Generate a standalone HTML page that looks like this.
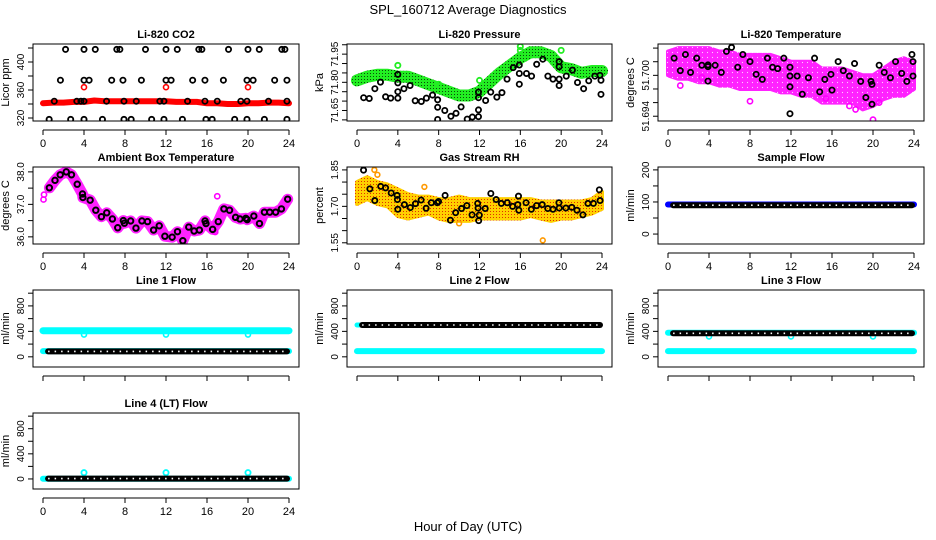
<!DOCTYPE html>
<html><head><meta charset="utf-8"><style>
html,body{margin:0;padding:0;background:#fff;}
svg{display:block;font-family:"Liberation Sans",Arial,sans-serif;}
</style></head><body>
<svg id="chart" width="936" height="540" viewBox="0 0 936 540" xmlns="http://www.w3.org/2000/svg">
<defs>
<pattern id="pGreen" width="3" height="3" patternUnits="userSpaceOnUse"><rect width="3" height="3" fill="#22ee22"/><rect x="1" y="1" width="1" height="1" fill="#0a4a0a"/></pattern>
<pattern id="pMag" width="5" height="5" patternUnits="userSpaceOnUse"><rect width="5" height="5" fill="#ff22ff"/><circle cx="2.5" cy="2.5" r="0.6" fill="#ffccff"/></pattern>
<pattern id="pRH" width="3" height="3" patternUnits="userSpaceOnUse"><rect width="3" height="3" fill="#ffd000"/><rect x="1" y="1" width="1" height="1" fill="#e03000"/></pattern>
</defs>
<text x="468" y="14" text-anchor="middle" font-size="13">SPL_160712  Average Diagnostics</text>
<text x="468" y="531" text-anchor="middle" font-size="13">Hour of Day (UTC)</text>
</svg>
<script>
// ---------- data ----------
const hours = [0,1,2,3,4,5,6,7,8,9,10,11,12,13,14,15,16,17,18,19,20,21,22,23,24];
const co2Red = [341,342,342,343,343,345,344,344,344,344,344,344,344,343,343,343,341,341,340,340,341,341,342,342,341];
const co2RedOutX = [4,12,20];
const co2RedOutY = [364,364,364];
const co2Levels = [418,374,344,318];
const co2LevelX = [
 [2.2,4,5.1,7.2,7.5,10,12,13.1,15.2,15.5,18.1,20,21.1,23.3,23.6],
 [1.7,4,4.5,6.7,7.8,9.6,12,12.5,14.6,15.8,17.6,19.9,20.5,22.6,23.8],
 [1.1,3.3,3.7,4,6.2,7.9,9.1,11.4,11.8,14.1,15.8,17,19.3,19.9,22,23.8],
 [0.6,2.7,4,5.8,7.9,8.6,10.6,11.8,13.6,15.9,16.5,18.7,19.9,21.6,23.8]];

const presGreen = [71.81,71.83,71.84,71.84,71.83,71.83,71.81,71.79,71.77,71.75,71.73,71.73,71.75,71.80,71.85,71.89,71.93,71.96,71.96,71.94,71.88,71.87,71.85,71.86,71.86];
const presGreenOutX = [4,8,12,16,16,20];
const presGreenOutY = [71.89,71.79,71.81,71.99,71.97,71.97];
const presBlackX = [0.65,1.2,1.75,2.3,2.8,3.3,4.0,4.0,4.0,4.0,4.6,5.2,5.7,6.3,6.8,7.4,7.9,7.9,7.9,8.6,9.2,9.7,10.2,10.8,11.3,11.9,11.9,11.9,11.9,12.6,13.1,13.7,14.2,14.7,15.3,15.9,15.9,15.9,16.6,17.1,17.6,18.2,18.7,19.2,19.8,19.8,19.8,19.8,20.5,21.1,21.6,22.2,22.7,23.3,23.8,23.9,23.9];
const presBlackY = [71.718,71.714,71.766,71.801,71.723,71.716,71.716,71.750,71.797,71.842,71.766,71.783,71.702,71.698,71.716,71.732,71.707,71.667,71.602,71.650,71.619,71.635,71.669,71.604,71.615,71.617,71.653,71.718,71.748,71.703,71.748,71.721,71.745,71.817,71.878,71.892,71.847,71.790,71.847,71.833,71.896,71.923,71.833,71.817,71.817,71.783,71.883,71.910,71.833,71.865,71.799,71.766,71.808,71.833,71.837,71.811,71.736];

const tempUpper = [51.7035,51.704,51.704,51.704,51.704,51.7035,51.7035,51.703,51.703,51.703,51.703,51.7025,51.702,51.702,51.702,51.701,51.701,51.701,51.7005,51.700,51.700,51.701,51.702,51.7025,51.702];
const tempLower = [51.700,51.6995,51.6995,51.699,51.699,51.6985,51.6985,51.698,51.698,51.698,51.698,51.6975,51.6975,51.697,51.697,51.696,51.696,51.696,51.696,51.695,51.6955,51.6965,51.697,51.697,51.698];
const tempMagOutX = [1.2,3.3,8.0,15.4,17.7,18.3,20.0,20.6];
const tempMagOutY = [51.6985,51.6997,51.6962,51.6966,51.6955,51.6950,51.6935,51.6960];
const tempBlackX = [0.6,1.2,1.7,2.2,2.8,3.3,3.9,3.9,3.9,4.6,5.2,5.7,6.2,6.8,7.3,8.0,8.6,9.2,9.7,10.2,10.7,11.3,11.9,11.9,11.9,11.9,12.6,13.1,13.7,14.3,14.8,15.3,15.9,16.0,16.6,17.1,17.7,18.2,18.8,19.3,19.8,19.9,19.9,20.6,21.1,21.7,22.2,22.8,23.3,23.8,23.9,23.9];
const tempBlackY = [51.70252,51.70069,51.70306,51.70044,51.70252,51.70148,51.70128,51.70153,51.69916,51.70148,51.70044,51.70351,51.7041,51.70119,51.70306,51.70202,51.70015,51.69941,51.70252,51.70119,51.70099,51.70252,51.70119,51.6999,51.69832,51.69437,51.6999,51.69723,51.69965,51.70252,51.69758,51.69941,51.70015,51.69783,51.70202,51.70069,51.6999,51.70173,51.69911,51.69674,51.69911,51.69867,51.69575,51.70148,51.70044,51.69965,51.70202,51.70029,51.69911,51.70306,51.70202,51.6999];

const ambX = [0.62,1.17,1.68,2.27,2.78,3.34,3.85,3.89,4.6,5.15,5.7,6.22,6.77,7.29,7.84,7.94,8.55,9.07,9.65,10.2,10.79,11.34,11.89,12.6,13.12,13.64,14.22,14.74,15.26,15.81,15.9,16.55,17.1,17.65,18.2,18.79,19.21,19.79,19.92,20.57,21.12,21.6,22.12,22.7,23.26,23.87];
const ambY = [37.51,37.74,37.91,38.0,37.91,37.62,37.32,37.21,37.13,36.82,36.62,36.74,36.55,36.28,36.5,36.42,36.49,36.27,36.49,36.47,36.21,36.34,36.02,35.99,36.16,35.88,36.3,36.18,36.21,36.49,36.41,36.23,36.47,36.86,36.82,36.6,36.55,36.57,36.53,36.64,36.41,36.76,36.76,36.76,36.86,37.16];
const ambMagOutX = [0.05,0.1,16.9,16.8,17.0];
const ambMagOutY = [37.15,37.3,36.4,36.15,37.25];

const rhUpper = [1.80,1.82,1.80,1.79,1.77,1.75,1.74,1.74,1.73,1.73,1.74,1.73,1.73,1.73,1.73,1.73,1.73,1.73,1.72,1.72,1.72,1.72,1.72,1.73,1.76];
const rhLower = [1.71,1.73,1.71,1.70,1.66,1.65,1.66,1.67,1.65,1.64,1.64,1.64,1.65,1.65,1.65,1.65,1.65,1.66,1.65,1.64,1.65,1.65,1.66,1.67,1.69];
const rhOutX = [1.7,2.0,6.6,10.0,18.2];
const rhOutY = [1.85,1.83,1.78,1.63,1.56];
const rhBlackX = [0.64,1.26,1.74,2.32,2.8,3.35,3.93,3.96,4.0,4.64,5.22,5.73,6.28,6.77,7.28,7.86,7.99,8.63,9.15,9.66,10.24,10.76,11.27,11.82,11.86,11.92,11.98,12.56,13.11,13.63,14.14,14.72,15.24,15.75,15.82,15.85,16.56,17.08,17.59,18.14,18.69,19.2,19.78,19.81,20.46,21.04,21.55,22.13,22.62,23.16,23.74,23.81];
const rhBlackY = [1.849,1.772,1.724,1.782,1.776,1.755,1.745,1.728,1.688,1.707,1.695,1.711,1.726,1.692,1.715,1.715,1.720,1.745,1.643,1.674,1.691,1.703,1.665,1.712,1.693,1.641,1.664,1.691,1.753,1.728,1.712,1.715,1.700,1.707,1.742,1.684,1.715,1.688,1.703,1.707,1.691,1.688,1.715,1.693,1.693,1.696,1.684,1.665,1.712,1.712,1.768,1.724];

const flowHours = [0,1,2,3,4,5,6,7,8,9,10,11,12,13,14,15,16,17,18,19,20,21,22,23,24];
const blackHours = [0.5,1.5,2.5,3.5,4.5,5.5,6.5,7.5,8.5,9.5,10.5,11.5,12.5,13.5,14.5,15.5,16.5,17.5,18.5,19.5,20.5,21.5,22.5,23.5,23.8];
const sampleBlue = [92,92,92,92,92,92,92,92,92,92,92,92,92,92,92,92,92,92,92,92,92,92,92,92,92];
const sampleBlack = [90,90,90,90,90,90,90,90,90,90,90,90,90,90,90,90,90,90,90,90,90,90,90,90,90];
const line1CyanHi = [410,410,410,410,410,410,410,410,410,410,410,410,410,410,410,410,410,410,410,410,410,410,410,410,410];
const line1CyanLo = [90,90,90,90,90,90,90,90,90,90,90,90,90,90,90,90,90,90,90,90,90,90,90,90,90];
const line1Black = [85,85,85,85,85,85,85,85,85,85,85,85,85,85,85,85,85,85,85,85,85,85,85,85,85];
const line2Black = [500,500,500,500,500,500,500,500,500,500,500,500,500,500,500,500,500,500,500,500,500,500,500,500,500];
const line2Cyan = [90,90,90,90,90,90,90,90,90,90,90,90,90,90,90,90,90,90,90,90,90,90,90,90,90];
const line3Black = [370,370,370,370,370,370,370,370,370,370,370,370,370,370,370,370,370,370,370,370,370,370,370,370,370];
const line3CyanHi = [378,378,378,378,378,378,378,378,378,378,378,378,378,378,378,378,378,378,378,378,378,378,378,378,378];
const line3CyanLo = [90,90,90,90,90,90,90,90,90,90,90,90,90,90,90,90,90,90,90,90,90,90,90,90,90];
const line4Black = [5,5,5,5,5,5,5,5,5,5,5,5,5,5,5,5,5,5,5,5,5,5,5,5,5];
const line4Cyan = [2,2,2,2,2,2,2,2,2,2,2,2,2,2,2,2,2,2,2,2,2,2,2,2,2];
const cyanDipX = [4,12,20];
const line1DipY = [350,350,350];
const line3DipY = [320,320,320];
const line4OutY = [100,100,100];
const xTickLabels = ["0","4","8","12","16","20","24"];

// ---------- drawing ----------
const NS = "http://www.w3.org/2000/svg";
const svg = document.getElementById("chart");
function mk(tag, attrs, parent) {
  const el = document.createElementNS(NS, tag);
  for (const k in attrs) el.setAttribute(k, attrs[k]);
  (parent || svg).appendChild(el);
  return el;
}
function X(p, v) { return p.x + 10 + v / 24 * (p.w - 20); }
function Y(p, v) { return p.y + p.h - (v - p.ylim[0]) / (p.ylim[1] - p.ylim[0]) * p.h; }

function panel(p) {
  const g = mk("g", {});
  
  
  p.g = g;
  const t = mk("text", {x: p.x + p.w / 2, y: p.y - 6, "text-anchor": "middle", "font-size": 11, "font-weight": "bold"}, g);
  t.textContent = p.title;
  
  
  const ya = mk("g", {stroke: "#000", "stroke-width": 1}, g);
  
  
  p.yticks.forEach(v => {
    const yy = Y(p, v);
    mk("line", {x1: p.x - 5, x2: p.x, y1: yy, y2: yy}, ya);
  });
  p.ylabels.forEach(v => {
    const yy = Y(p, v);
    const tl = mk("text", {x: p.x - 9, y: yy, "text-anchor": "middle", "font-size": 10, transform: `rotate(-90 ${p.x - 9} ${yy})`, stroke: "none"}, g);
    tl.textContent = p.fmt ? v.toFixed(p.fmt) : String(v);
    
    
  });
  const yt = mk("text", {x: p.x - 24, y: p.y + p.h / 2, "text-anchor": "middle", "font-size": 11, transform: `rotate(-90 ${p.x - 24} ${p.y + p.h / 2})`}, g);
  yt.textContent = p.ylab;
  
  
  const xa = mk("g", {stroke: "#000", "stroke-width": 1}, g);
  
  
  const ay = p.y + p.h + 9;
  mk("line", {x1: X(p, 0), x2: X(p, 24), y1: ay, y2: ay}, xa);
  xTickLabels.forEach(s => {
    const xx = X(p, +s);
    mk("line", {x1: xx, x2: xx, y1: ay, y2: ay + 5}, xa);
    if (p.xlabels) {
      const tl = mk("text", {x: xx, y: ay + 17, "text-anchor": "middle", "font-size": 11, stroke: "none", fill: "#000"}, g);
      tl.textContent = s;
      
      
    }
  });
  const cp = mk("clipPath", {id: "clip-" + p.name}, g);
  mk("rect", {x: p.x, y: p.y, width: p.w, height: p.h}, cp);
  p.plot = mk("g", {"clip-path": `url(#clip-${p.name})`}, g);
  
  
  return p;
}
function frame(p) {
  const r = mk("rect", {x: p.x, y: p.y, width: p.w, height: p.h, fill: "none", stroke: "#000", "stroke-width": 1}, p.g);
  
  
}
function thickLine(p, xs, ys, color, w, name) {
  const pts = xs.map((v, i) => X(p, v).toFixed(1) + "," + Y(p, ys[i]).toFixed(1)).join(" ");
  const l = mk("polyline", {points: pts, fill: "none", stroke: color, "stroke-width": w, "stroke-linejoin": "round", "stroke-linecap": "round"}, p.plot);
  
  
}
function band(p, xs, up, lo, fill, name) {
  const a = xs.map((v, i) => X(p, v).toFixed(1) + "," + Y(p, up[i]).toFixed(1));
  const b = xs.map((v, i) => X(p, v).toFixed(1) + "," + Y(p, lo[i]).toFixed(1)).reverse();
  const poly = mk("polygon", {points: a.concat(b).join(" "), fill: fill, stroke: fill, "stroke-width": 4, "stroke-linejoin": "round"}, p.plot);
  
  
}
function points(p, xs, ys, color, r, sw, name) {
  xs.forEach((v, i) => {
    const c = mk("circle", {cx: X(p, v), cy: Y(p, ys[i]), r: r, fill: "none", stroke: color, "stroke-width": sw}, p.plot);
    
    
  });
}
function ringSeries(p, xs, ys, name) {
  thickLine(p, xs, ys, "#000", 6, name);
  const pts = xs.map((v, i) => X(p, v).toFixed(1) + "," + Y(p, ys[i]).toFixed(1)).join(" ");
  const l = mk("polyline", {points: pts, fill: "none", stroke: "#fff", "stroke-width": 1.6, "stroke-dasharray": "1.5 5"}, p.plot);
  
  
}
function range(a, b, s) { const r = []; for (let v = a; v <= b + 1e-9; v += s) r.push(+v.toFixed(4)); return r; }

const pCO2 = panel({name: "co2", title: "Li-820 CO2", ylab: "Licor ppm", x: 33, y: 44, w: 266, h: 77, ylim: [315.7, 425.7], yticks: range(320, 420, 20), ylabels: [320, 360, 400], xlabels: true});
thickLine(pCO2, hours, co2Red, "#ff0000", 6, "co2-red-series");
points(pCO2, co2RedOutX, co2RedOutY, "#ff0000", 2.5, 1.6, "co2-red-outlier");
co2Levels.forEach((lv, k) => points(pCO2, co2LevelX[k], co2LevelX[k].map(() => lv), "#000", 2.6, 1.8, "co2-black-point"));
frame(pCO2);

const pPres = panel({name: "pressure", title: "Li-820 Pressure", ylab: "kPa", x: 347, y: 44, w: 265, h: 77, ylim: [71.594, 72.004], yticks: range(71.60, 72.00, 0.05), ylabels: [71.65, 71.80, 71.95], fmt: 2, xlabels: true});
thickLine(pPres, hours, presGreen, "url(#pGreen)", 12, "pressure-green-series");
points(pPres, presGreenOutX, presGreenOutY, "#22ee22", 2.6, 1.8, "pressure-green-outlier");
points(pPres, presBlackX, presBlackY, "#000", 2.6, 1.8, "pressure-black-point");
frame(pPres);

const pTemp = panel({name: "temperature", title: "Li-820 Temperature", ylab: "degrees C", x: 658, y: 44, w: 266, h: 77, ylim: [51.6933, 51.7046], yticks: range(51.694, 51.704, 0.002), ylabels: [51.694, 51.700], fmt: 3, xlabels: true});
band(pTemp, hours, tempUpper, tempLower, "url(#pMag)", "temperature-magenta-band");
points(pTemp, tempMagOutX, tempMagOutY, "#ff00ff", 2.6, 1.6, "temperature-magenta-point");
points(pTemp, tempBlackX, tempBlackY, "#000", 2.6, 1.8, "temperature-black-point");
frame(pTemp);

const pAmb = panel({name: "ambient-temp", title: "Ambient Box Temperature", ylab: "degrees C", x: 33, y: 167, w: 266, h: 77, ylim: [35.78, 38.15], yticks: range(36.0, 38.0, 0.5), ylabels: [36.0, 37.0, 38.0], fmt: 1, xlabels: true});
thickLine(pAmb, ambX, ambY, "#ff22ff", 11, "ambient-magenta-series");
points(pAmb, ambMagOutX, ambMagOutY, "#ff00ff", 2.6, 1.6, "ambient-magenta-outlier");
points(pAmb, ambX, ambY, "#000", 2.7, 2, "ambient-black-point");
frame(pAmb);

const pRH = panel({name: "gas-rh", title: "Gas Stream RH", ylab: "percent", x: 347, y: 167, w: 265, h: 77, ylim: [1.545, 1.862], yticks: range(1.55, 1.85, 0.05), ylabels: [1.55, 1.70, 1.85], fmt: 2, xlabels: true});
band(pRH, hours, rhUpper, rhLower, "url(#pRH)", "rh-orange-band");
points(pRH, rhOutX, rhOutY, "#ff9900", 2.4, 1.6, "rh-orange-outlier");
points(pRH, rhBlackX, rhBlackY, "#000", 2.6, 1.8, "rh-black-point");
frame(pRH);

const pSF = panel({name: "sample-flow", title: "Sample Flow", ylab: "ml/min", x: 658, y: 167, w: 266, h: 77, ylim: [-31, 209], yticks: range(0, 200, 50), ylabels: [0, 100, 200], xlabels: true});
thickLine(pSF, flowHours, sampleBlue, "#0000ff", 6, "sample-flow-blue-series");
ringSeries(pSF, blackHours, sampleBlack, "sample-flow-black-series");
frame(pSF);

const flowTicks = range(0, 1000, 200);
const pL1 = panel({name: "line1-flow", title: "Line 1 Flow", ylab: "ml/min", x: 33, y: 290, w: 266, h: 77, ylim: [-160, 1050], yticks: flowTicks, ylabels: [0, 400, 800], xlabels: false});
thickLine(pL1, flowHours, line1CyanHi, "#00ffff", 7, "line1-cyan-high");
thickLine(pL1, flowHours, line1CyanLo, "#00ffff", 6, "line1-cyan-low");
points(pL1, cyanDipX, line1DipY, "#00ffff", 2.5, 1.6, "line1-cyan-dip");
ringSeries(pL1, blackHours, line1Black, "line1-black-series");
frame(pL1);

const pL2 = panel({name: "line2-flow", title: "Line 2 Flow", ylab: "ml/min", x: 347, y: 290, w: 265, h: 77, ylim: [-160, 1050], yticks: flowTicks, ylabels: [0, 400, 800], xlabels: false});
thickLine(pL2, flowHours, line2Cyan, "#00ffff", 6, "line2-cyan-series");
thickLine(pL2, [0, 0.4], [500, 500], "#00ffff", 5, "line2-cyan-start");
ringSeries(pL2, blackHours, line2Black, "line2-black-series");
frame(pL2);

const pL3 = panel({name: "line3-flow", title: "Line 3 Flow", ylab: "ml/min", x: 658, y: 290, w: 266, h: 77, ylim: [-160, 1050], yticks: flowTicks, ylabels: [0, 400, 800], xlabels: false});
thickLine(pL3, flowHours, line3CyanHi, "#00ffff", 6, "line3-cyan-high");
thickLine(pL3, flowHours, line3CyanLo, "#00ffff", 6, "line3-cyan-low");
points(pL3, cyanDipX, line3DipY, "#00ffff", 2.5, 1.6, "line3-cyan-dip");
ringSeries(pL3, blackHours, line3Black, "line3-black-series");
frame(pL3);

const pL4 = panel({name: "line4-flow", title: "Line 4 (LT) Flow", ylab: "ml/min", x: 33, y: 413, w: 266, h: 76, ylim: [-160, 1050], yticks: flowTicks, ylabels: [0, 400, 800], xlabels: true});
thickLine(pL4, flowHours, line4Cyan, "#00ffff", 6, "line4-cyan-series");
points(pL4, cyanDipX, line4OutY, "#00ffff", 2.6, 1.8, "line4-cyan-outlier");
ringSeries(pL4, blackHours, line4Black, "line4-black-series");
frame(pL4);
</script>
</body></html>
